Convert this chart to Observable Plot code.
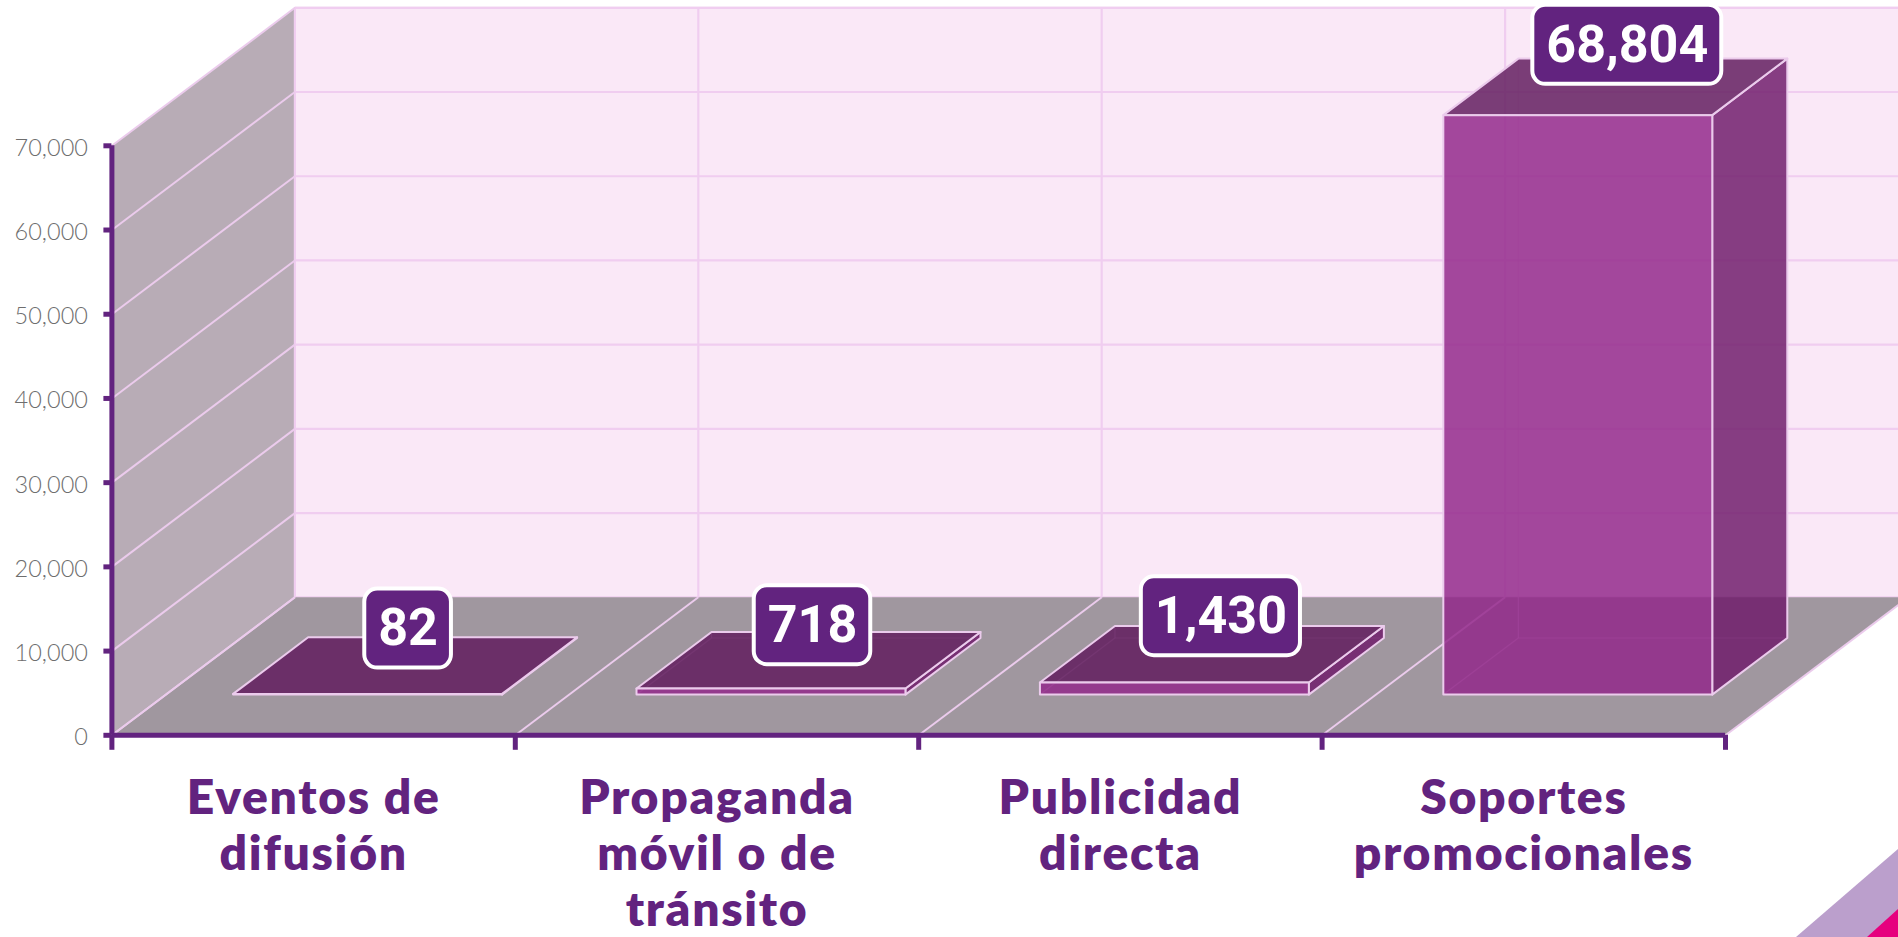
<!DOCTYPE html>
<html lang="es">
<head>
<meta charset="utf-8">
<title>Soportes promocionales</title>
<script src="https://cdn.jsdelivr.net/npm/d3@7"></script>
<script src="https://cdn.jsdelivr.net/npm/@observablehq/plot@0.6"></script>
<style>
  html, body { margin: 0; padding: 0; background: #fff; overflow: hidden; }
  #stage { position: relative; width: 1898px; height: 937px; overflow: hidden; }
  .corner { position: absolute; inset: 0; pointer-events: none; }
  #lilac { background: #bb9fcc; clip-path: polygon(1796px 937px, 1898px 849px, 1898px 937px); }
  #pink { background: #e6007e; clip-path: polygon(1867px 937px, 1898px 909px, 1898px 937px); }
  .cat-labels text { letter-spacing: 1.7px; }
</style>
</head>
<body>
<div id="stage"><div class="corner" id="lilac"></div><div class="corner" id="pink"></div></div>
<script>
const categories = ["Eventos de\ndifusión", "Propaganda\nmóvil o de\ntránsito", "Publicidad\ndirecta", "Soportes\npromocionales"];
const values = [82, 718, 1430, 68804];
const valueTicks = [0, 10000, 20000, 30000, 40000, 50000, 60000, 70000];
const categoryEdges = [0, 1, 2, 3, 4];
const categoryCentres = [0.5, 1.5, 2.5, 3.5];

const W = 1898, H = 937;
const margins = {left: 111.4, right: 173, top: 145.3, bottom: 202.2};
const pxPerCategory = (W - margins.left - margins.right) / 4;
const pxPerValue = (H - margins.top - margins.bottom) / 70000;
const depthX = 183 / pxPerCategory;
const depthY = 138 / pxPerValue;
const project = (x, v, d) => ({x: x + d * depthX, y: v + d * depthY});

const FONT = "Lato, 'Open Sans', sans-serif";
const LABEL_FONT = "Roboto, sans-serif";
const PURPLE = "#62237f", EDGE = "#ebcbec", GRID = "#f0cdf0";
const face = (corners, fill, extra = {}) =>
  Plot.line([...corners, corners[0]], {x: "x", y: "y", fill, stroke: EDGE, strokeWidth: 2, ...extra});
const link = (rows, from, to, extra = {}) =>
  Plot.link(rows, {
    x1: r => from(r).x, y1: r => from(r).y,
    x2: r => to(r).x, y2: r => to(r).y,
    stroke: EDGE, strokeWidth: 2, ...extra
  });

// Value labels: white-edged rounded boxes measured from their text, nudged as in the source.
const fmt = d3.format(",");
const nudgeX = [3, 4, 9, 12];
const lift = [37, 35, 38, 42];
const measure = document.createElement("canvas").getContext("2d");
measure.font = "bold 52px Roboto";
const labelRows = values.map((v, i) => {
  const c = project(i + 0.5, v, 0.5);
  const text = fmt(v);
  const w = measure.measureText(text).width + 27;
  const h = 79;
  const cx = c.x + nudgeX[i] / pxPerCategory;
  const cy = c.y + lift[i] / pxPerValue;
  return {text, cx, cy,
          x1: cx - w / 2 / pxPerCategory, x2: cx + w / 2 / pxPerCategory,
          y1: cy - h / 2 / pxPerValue, y2: cy + h / 2 / pxPerValue};
});

const barMarks = values.flatMap((v, i) => {
  const xa = i + 1/6, xb = i + 5/6, df = 0.295, db = 0.705;
  const backEdges = [
    [[xa, 0, db], [xb, 0, db]], [[xa, 0, df], [xa, 0, db]], [[xa, 0, db], [xa, v, db]]
  ].map(([a, b]) => Plot.link([0], {
    x1: () => project(...a).x, y1: () => project(...a).y,
    x2: () => project(...b).x, y2: () => project(...b).y,
    stroke: EDGE, strokeWidth: 1.2, strokeOpacity: 0.7
  }));
  const o = {fillOpacity: 0.83, strokeLinejoin: "round"};
  return [
    ...backEdges,
    face([project(xb, 0, df), project(xb, 0, db), project(xb, v, db), project(xb, v, df)], "#6f1b6a", o),
    face([project(xa, v, df), project(xb, v, df), project(xb, v, db), project(xa, v, db)], "#601a5d", o),
    face([project(xa, 0, df), project(xb, 0, df), project(xb, v, df), project(xa, v, df)], "#912789", o)
  ];
});

const chart = Plot.plot({
  width: W,
  height: H,
  marginLeft: margins.left, marginRight: margins.right, marginTop: margins.top, marginBottom: margins.bottom,
  style: {background: "transparent", fontFamily: FONT},
  x: {type: "linear", domain: [0, 4]},
  y: {type: "linear", domain: [0, 70000]},
  marks: [
    // walls and floor
    face([project(0, 0, 1), project(4, 0, 1), project(4, 70000, 1), project(0, 70000, 1)], "#fae8f7", {stroke: GRID, strokeWidth: 2}),
    face([project(0, 0, 0), project(0, 0, 1), project(0, 70000, 1), project(0, 70000, 0)], "#b8acb6", {stroke: "none"}),
    face([project(0, 0, 0), project(4, 0, 0), project(4, 0, 1), project(0, 0, 1)], "#a0979f", {stroke: "none"}),
    // gridlines
    link(valueTicks.slice(1), v => project(0, v, 1), v => project(4, v, 1), {stroke: GRID, strokeWidth: 2.2}),
    link(categoryEdges.slice(1, 4), c => project(c, 70000, 1), c => project(c, 0, 1), {stroke: GRID, strokeWidth: 2.2}),
    link([0], () => project(0, 0, 1), () => project(0, 70000, 1), {stroke: GRID, strokeWidth: 2.2}),
    link(valueTicks, v => project(0, v, 0), v => project(0, v, 1)),
    link(categoryEdges, c => project(c, 0, 0), c => project(c, 0, 1)),
    // bars
    ...barMarks,
    // axes
    Plot.ruleX([0], {y1: 0, y2: 70000, stroke: PURPLE, strokeWidth: 5}),
    Plot.ruleY([0], {x1: 0, x2: 4, stroke: PURPLE, strokeWidth: 5}),
    Plot.axisY(valueTicks, {tickSize: 8, stroke: PURPLE, strokeWidth: 5, tickFormat: () => "", label: null}),
    Plot.axisY(valueTicks, {
      tickSize: 0, tickPadding: 24, dy: 2.5, fill: "#6e6e6e",
      fontSize: 23.5, fontWeight: 300, tickFormat: fmt, label: null
    }),
    Plot.axisX(categoryEdges, {tickSize: 15, stroke: PURPLE, strokeWidth: 5, tickFormat: () => "", label: null}),
    Plot.axisX(categoryCentres, {
      tickSize: 0, tickPadding: 39, fill: PURPLE, fontSize: 48, fontWeight: 800, lineHeight: 56 / 48,
      textOverflow: null, tickFormat: c => categories[c - 0.5], label: null, className: "cat-labels"
    }),
    // value labels
    Plot.rect(labelRows, {x1: "x1", x2: "x2", y1: "y1", y2: "y2", fill: PURPLE, stroke: "white", strokeWidth: 4, rx: 13, ry: 13}),
    Plot.text(labelRows, {x: "cx", y: "cy", text: "text", fill: "white", fontSize: 52, fontWeight: 700, fontFamily: LABEL_FONT})
  ]
});
chart.style.position = "absolute";
chart.style.left = "0";
chart.style.top = "0";
document.getElementById("stage").appendChild(chart);
</script>
</body>
</html>
